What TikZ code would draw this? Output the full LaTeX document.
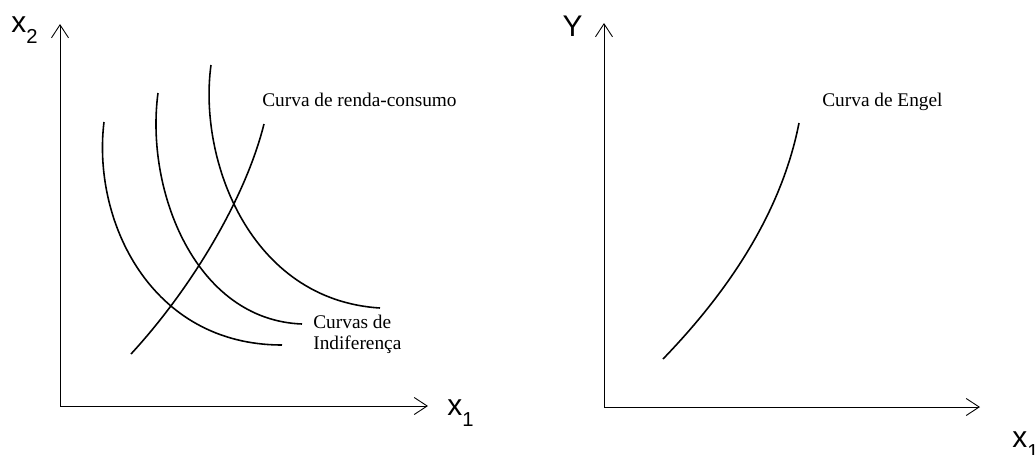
\documentclass[tikz,border=0pt]{standalone}
\usepackage{fontspec}
\setmainfont{Liberation Serif}
\setsansfont{Liberation Sans}
\usetikzlibrary{arrows.meta}

\begin{document}
\begin{tikzpicture}[x=0.02cm,y=-0.02cm,
    axis/.style={line width=0.5pt,-{Straight Barb[length=0.26cm,width=0.34cm]}},
    curve/.style={line width=0.9pt},
    lbl/.style={font=\fontsize{11}{11.4}\selectfont,inner sep=0pt},
    axlbl/.style={font=\sffamily\fontsize{17}{20}\selectfont,inner sep=0pt}]
  \newcommand{\sub}[1]{\raisebox{-0.4em}{\fontsize{11.5}{11.5}\selectfont #1}}
  \useasboundingbox (0,0) rectangle (1036,454);
  % Achsen links
  \coordinate (o1) at (60,406);
  \coordinate (top1) at (60,24);
  \coordinate (right1) at (428,406);
  \draw[axis] (o1) -- (top1);  %Ordinate
  \draw[axis] (o1) -- (right1);  %Abzisse
  \node[axlbl,anchor=base west] (lx2) at (11,32) {x\sub{2}};
  \node[axlbl,anchor=base west] (lx1) at (447,415) {x\sub{1}};
  % Achsen rechts
  \coordinate (o2) at (604,407);
  \coordinate (top2) at (604,23);
  \coordinate (right2) at (980,407);
  \draw[axis] (o2) -- (top2);  %Ordinate
  \draw[axis] (o2) -- (right2);  %Abzisse
  \node[axlbl,anchor=base east] (ly) at (583,36) {Y};
  \node[axlbl,anchor=base west] (lx1r) at (1012,447) {x\sub{1}};
  % Indifferenzkurven
  \foreach \name/\xa/\ya/\xb/\yb/\xc/\yc/\xd/\yd in
  {
    ic1/104/122/92/220/150/345/282/345,
    ic2/158/93/145/190/195/320/302/324,
    ic3/211/65/198/160/250/300/380/308
  }
  {
    \coordinate (\name s) at (\xa,\ya);
    \coordinate (\name e) at (\xd,\yd);
    \draw[curve] (\name s) .. controls (\xb,\yb) and (\xc,\yc) .. (\name e);
  };
  % Einkommens-Konsum-Kurve
  \coordinate (iccs) at (131,354);
  \coordinate (icce) at (264,124);
  \draw[curve] (iccs) .. controls (190,290) and (245,200) .. (icce);
  \node[lbl,anchor=base west] (licc) at (262,106) {Curva de renda-consumo};
  \node[lbl,anchor=base west,align=left] (lic) at (313,349) {Curvas de\\Indiferença};
  % Engel-Kurve
  \coordinate (engs) at (663,359);
  \coordinate (enge) at (799,123);
  \draw[curve] (engs) .. controls (720,300) and (780,220) .. (enge);
  \node[lbl,anchor=base west] (leng) at (822,106) {Curva de Engel};
\end{tikzpicture}
\end{document}
